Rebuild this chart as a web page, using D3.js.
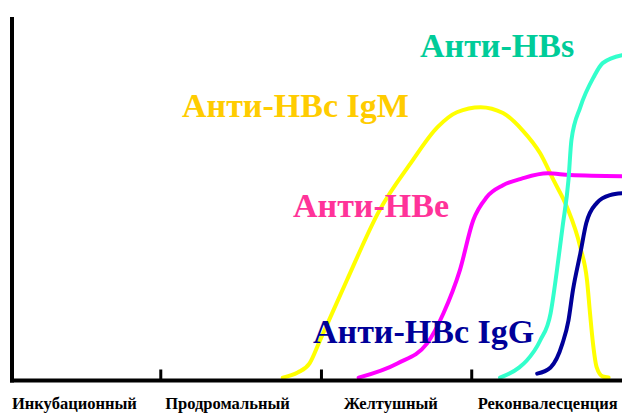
<!DOCTYPE html>
<html>
<head>
<meta charset="utf-8">
<script src="https://cdn.jsdelivr.net/npm/d3@7"></script>
<style>
	body { margin: 0; background: #fff; }
	svg { display: block; }
</style>
</head>
<body>
<div id="chart"></div>
<script>
// time (arbitrary units) vs antibody level (%)
const antiHBcIgM = [
	[18.2, 0.8], [19.2, 2.2], [20.0, 4.7], [20.7, 11.0], [22.5, 27.5], [24.7, 46.8],
	[26.8, 59.8], [28.6, 69.7], [29.9, 73.8], [31.5, 75.2], [33.0, 73.6], [34.3, 68.9],
	[35.5, 62.5], [36.4, 55.1], [37.3, 47.7], [38.2, 36.6], [38.65, 27.5], [38.85, 18.5],
	[39.05, 10.2], [39.3, 3.6], [39.7, 1.1], [40.1, 0.8]
];
const antiHBe = [
	[23.3, 0.8], [25.9, 4.7], [27.9, 10.2], [29.0, 18.5], [30.1, 30.3], [31.0, 44.1],
	[31.9, 50.4], [33.0, 53.7], [34.3, 55.6], [36.0, 57.0], [37.5, 56.5], [41.0, 56.2]
];
const antiHBs = [
	[32.8, 0.8], [34.1, 3.6], [34.6, 5.5], [35.5, 11.0], [36.2, 18.5], [36.6, 29.5],
	[37.0, 42.1], [37.4, 55.1], [37.6, 66.1], [38.2, 75.2], [39.1, 83.5], [39.7, 87.3],
	[41.0, 89.5]
];
const antiHBcIgG = [
	[35.3, 1.9], [36.2, 3.6], [37.0, 10.2], [37.4, 16.5], [37.7, 24.8], [38.2, 35.0],
	[38.6, 43.3], [39.3, 48.8], [40.2, 51.0], [41.0, 51.5]
];

const phaseTicks = [10, 20.8, 30.9];
const phaseNames = ['Инкубационный', 'Продромальный', 'Желтушный', 'Реконвалесценция'];
const phaseLabelStart = [0, 10.3, 22.3, 31.3];

const seriesNames = ['Анти-HBs', 'Анти-HBc IgM', 'Анти-HBe', 'Анти-HBc IgG'];

const width = 622, height = 415;

var svg = d3.select('#chart')
	.append('svg')
	.attr('width', width)
	.attr('height', height);

var x = d3.scaleLinear().domain([0, 41]).range([12, 622]);
var y = d3.scaleLinear().domain([0, 100]).range([380.5, 17]);

var line = d3.line()
	.x((d) => x(d[0]))
	.y((d) => y(d[1]))
	.curve(d3.curveMonotoneX);

var curves = [
	{ data: antiHBcIgM, color: '#ffff00' },
	{ data: antiHBe, color: '#ff00ff' },
	{ data: antiHBs, color: '#33ffcc' },
	{ data: antiHBcIgG, color: '#000099' }
];

svg.selectAll('path.curve')
	.data(curves)
	.enter()
	.append('path')
	.attr('class', 'curve')
	.attr('d', (d) => line(d.data))
	.attr('fill', 'none')
	.attr('stroke', (d) => d.color)
	.attr('stroke-width', 4)
	.attr('stroke-linecap', 'round');

// axes
svg.append('line')
	.attr('x1', x(0)).attr('x2', x(0))
	.attr('y1', y(100)).attr('y2', y(0) + 2)
	.attr('stroke', '#000').attr('stroke-width', 4);

svg.append('line')
	.attr('x1', x(0) - 2).attr('x2', width)
	.attr('y1', y(0)).attr('y2', y(0))
	.attr('stroke', '#000').attr('stroke-width', 4);

svg.selectAll('line.tick')
	.data(phaseTicks)
	.enter()
	.append('line')
	.attr('class', 'tick')
	.attr('x1', (d) => x(d)).attr('x2', (d) => x(d))
	.attr('y1', y(0) - 11).attr('y2', y(0))
	.attr('stroke', '#000').attr('stroke-width', 3);

svg.selectAll('text.phase')
	.data(phaseNames)
	.enter()
	.append('text')
	.attr('class', 'phase')
	.attr('x', (d, i) => x(phaseLabelStart[i]))
	.attr('y', 409)
	.attr('font-family', '"Liberation Serif", "Times New Roman", serif')
	.attr('font-weight', 'bold')
	.attr('font-size', 16.5)
	.attr('fill', '#000')
	.text((d) => d);

// series labels
var labelPos = [
	{ x: 420, y: 57, color: '#00cc99' },
	{ x: 182, y: 117, color: '#ffcc00' },
	{ x: 293, y: 217, color: '#ff3399' },
	{ x: 313, y: 343, color: '#000099' }
];

svg.selectAll('text.series')
	.data(seriesNames)
	.enter()
	.append('text')
	.attr('class', 'series')
	.attr('x', (d, i) => labelPos[i].x)
	.attr('y', (d, i) => labelPos[i].y)
	.attr('font-family', '"Liberation Serif", "Times New Roman", serif')
	.attr('font-weight', 'bold')
	.attr('font-size', 34)
	.attr('fill', (d, i) => labelPos[i].color)
	.text((d) => d);
</script>
</body>
</html>
